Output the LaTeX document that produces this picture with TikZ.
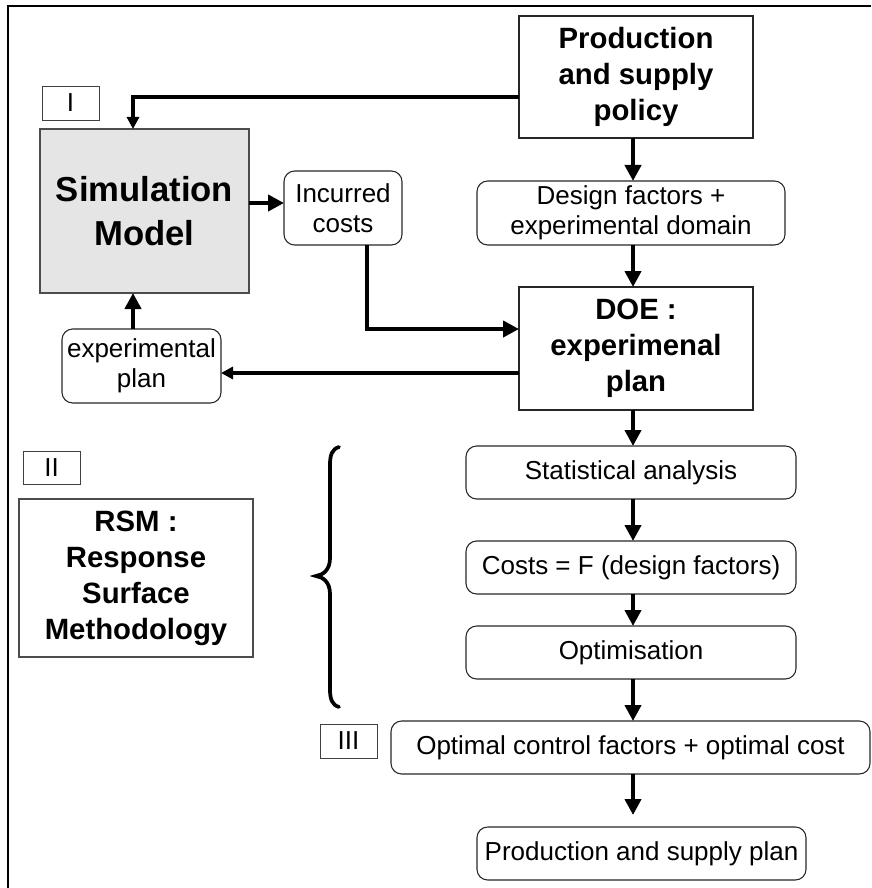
\documentclass[tikz,border=0pt]{standalone}
\usepackage{fontspec}
\setmainfont{Liberation Sans}
\usetikzlibrary{arrows.meta,calc}
\newcommand\bx[7]{\node[#6,minimum width={(#4-#2)*0.75pt},minimum height={(#5-#3)*0.75pt}] (#1) at ({(#2+#4)/2},{(#3+#5)/2}) {#7};}
\begin{document}
\begin{tikzpicture}[x=0.75pt,y=-0.75pt,
 box/.style={draw=black!85,line width=0.8pt,inner sep=0pt,outer sep=0pt,align=center},
 rbox/.style={box,rounded corners=8pt},
 normal/.style={font=\fontsize{19.5}{22.5}\selectfont},
 boldt/.style={font=\fontsize{22}{27}\selectfont\bfseries},
 big/.style={font=\fontsize{26}{33}\selectfont\bfseries},
 lab/.style={draw=black!75,line width=0.6pt,inner sep=0pt,outer sep=0pt,font=\fontsize{19.5}{22.5}\selectfont},
 thickarrow/.style={line width=3.5pt,-{Triangle[length=12pt,width=12pt]}},
 thinarrow/.style={line width=2.3pt,-{Triangle[length=9pt,width=9pt]}},
]
\useasboundingbox (0,0) rectangle (871,888);
% frame
\draw[line width=2pt] (8,888) -- (8,6) -- (871,6);
% nodes
\bx{prod}{519}{16}{753}{138}{box,boldt}{Production\\and supply\\policy}
\bx{design}{477}{181}{785}{245}{rbox,normal}{Design factors +\\experimental domain}
\bx{doe}{519}{287}{753}{410}{box,boldt}{DOE :\\experimenal\\plan}
\bx{sim}{40}{129}{249}{293}{box,big,fill=black!10,draw=black!70}{Simulation\\Model}
\bx{inc}{284}{171}{402}{245}{rbox,normal}{Incurred\\costs}
\bx{explan}{62}{329}{221}{403}{rbox,normal}{experimental\\plan}
\bx{labI}{42}{86}{99}{120}{lab}{I}
\bx{labII}{23}{451}{80}{484}{lab}{II}
\bx{rsm}{19}{499}{253}{657}{box,boldt,draw=black!70}{RSM :\\Response\\Surface\\Methodology}
\bx{stat}{466}{446}{796}{499}{rbox,normal}{Statistical analysis}
\bx{costs}{466}{541}{796}{594}{rbox,normal}{Costs = F (design factors)}
\bx{optim}{466}{626}{796}{679}{rbox,normal}{Optimisation}
\bx{optctl}{391}{721}{870}{774}{rbox,normal}{Optimal control factors + optimal cost}
\bx{plan}{477}{827}{806}{880}{rbox,normal}{Production and supply plan}
\bx{labIII}{320}{724}{377}{758}{lab}{III}
% helper coordinates
\coordinate (c1) at (133,97);
\coordinate (c2) at (0,203);
\coordinate (c3) at (367,329);
\coordinate (c4) at (0,373);
\coordinate (c5) at (633,0);
% connectors
\draw[thinarrow] (prod.west |- c1) -- (c1) -- (sim.north -| c1);
\draw[thickarrow] (sim.east |- c2) -- (inc.west |- c2);
\draw[thickarrow] (inc.south -| c3) -- (c3) -- (doe.west |- c3);
\draw[thinarrow] (doe.west |- c4) -- (explan.east |- c4);
\draw[thickarrow] (explan.north -| c1) -- (sim.south -| c1);
\draw[thickarrow] (prod.south -| c5) -- (design.north -| c5);
\draw[thickarrow] (design.south -| c5) -- (doe.north -| c5);
\draw[thickarrow] (doe.south -| c5) -- (stat.north -| c5);
\draw[thickarrow] (stat.south -| c5) -- (costs.north -| c5);
\draw[thickarrow] (costs.south -| c5) -- (optim.north -| c5);
\draw[thickarrow] (optim.south -| c5) -- (optctl.north -| c5);
\draw[thickarrow,shorten >=9pt] (optctl.south -| c5) -- (plan.north -| c5);
% brace
\draw[line width=2.8pt,line cap=round] (339,447) .. controls (332,449) and (330,455) .. (330,465) -- (330,558) .. controls (330,570) and (323,575) .. (316,576) .. controls (323,577) and (330,582) .. (330,594) -- (330,689) .. controls (330,699) and (332,705) .. (339,707);
\end{tikzpicture}
\end{document}
